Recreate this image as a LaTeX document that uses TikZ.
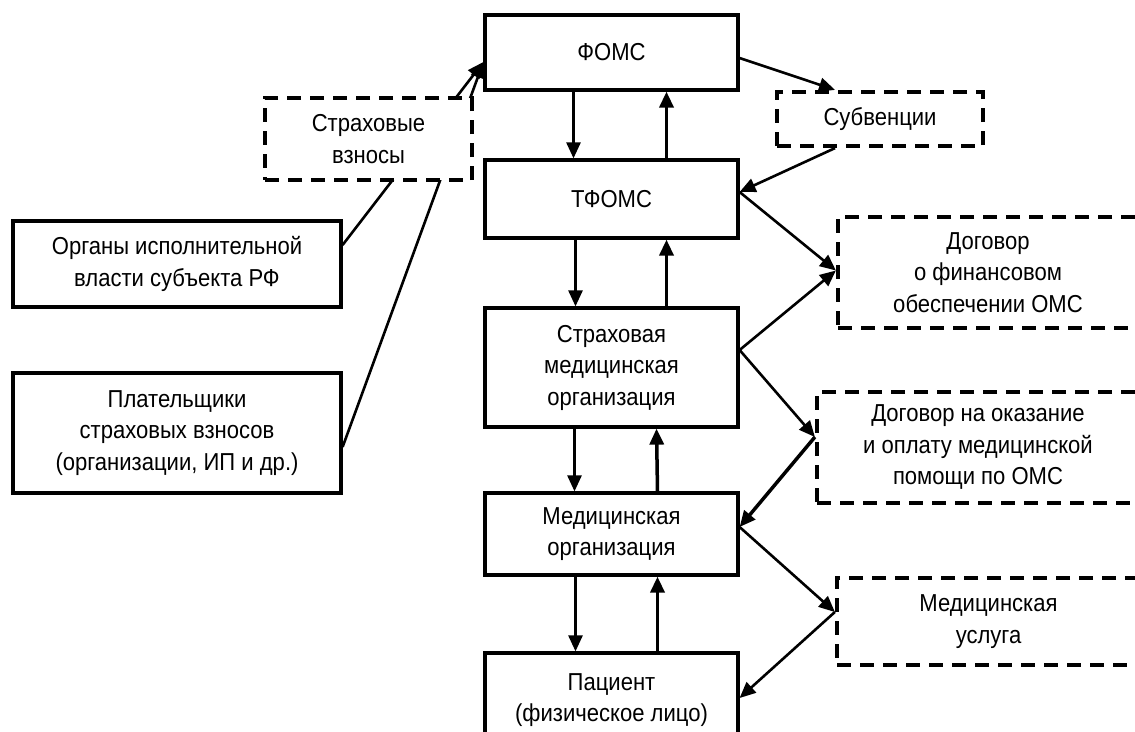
\documentclass[tikz,border=0pt]{standalone}
\usepackage{fontspec}
\setmainfont{Liberation Sans}[FakeStretch=0.9]
\usetikzlibrary{arrows.meta, calc}

\begin{document}
\begin{tikzpicture}[x=1pt, y=-1pt,
    box/.style={rectangle, draw, line width=3.2pt, fill=white, inner sep=0pt,
                align=center, font=\fontsize{24.5}{31.5}\selectfont},
    dbox/.style={box, dash pattern=on 14pt off 9pt, line width=4.2pt},
    link/.style={line width=2.6pt, -{Triangle[length=16pt, width=14pt]}},
    uplink/.style={link, line width=3.5pt}
  ]
  \useasboundingbox (0,0) rectangle (1135,731);
  \clip (0,0) rectangle (1135,731);

  % Central column
  \node[box, minimum width=253pt, minimum height=75pt]  (foms)  at (611.5,52.5) {ФОМС};
  \node[box, minimum width=253pt, minimum height=78pt]  (tfoms) at (611.5,199)  {ТФОМС};
  \node[box, minimum width=253pt, minimum height=119pt] (smo)   at (611.5,367.5)
       {Страховая\\медицинская\\организация};
  \node[box, minimum width=253pt, minimum height=82pt]  (mo)    at (611.5,534)
       {Медицинская\\организация};
  \node[box, minimum width=253pt, minimum height=94pt]  (pat)   at (611.5,700)
       {Пациент\\(физическое лицо)};

  % Down and up flows
  \draw[link]   ([xshift=-38pt]foms.south)  -- ([xshift=-38pt]tfoms.north);
  \draw[uplink] ([xshift=55pt]tfoms.north)  -- ([xshift=55pt]foms.south);
  \draw[link]   ([xshift=-36pt]tfoms.south) -- ([xshift=-36pt]smo.north);
  \draw[uplink] ([xshift=55pt]smo.north)    -- ([xshift=55pt]tfoms.south);
  \draw[link]   ([xshift=-37pt]smo.south)   -- ([xshift=-37pt]mo.north);
  \draw[uplink] ([xshift=46pt]mo.north)     -- ([xshift=45pt]smo.south);
  \draw[link]   ([xshift=-36pt]mo.south)    -- ([xshift=-36pt]pat.north);
  \draw[uplink] ([xshift=46pt]pat.north)    -- ([xshift=46pt]mo.south);

  % Left side
  \node[box, minimum width=328pt, minimum height=86pt]  (org)  at (177,264)
       {Органы исполнительной\\власти субъекта РФ};
  \node[box, minimum width=328pt, minimum height=120pt] (plat) at (177,433)
       {Плательщики\\страховых взносов\\(организации, ИП и др.)};

  \draw[link] ([yshift=19pt]org.east)   -- ([yshift=-9.5pt]foms.west);
  \draw[link] ([yshift=-14pt]plat.east) -- ([yshift=-9.5pt]foms.west);

  \node[dbox, minimum width=207pt, minimum height=82pt] (vzn) at (368.5,139)
       {Страховые\\взносы};

  % Right side
  \node[dbox, minimum width=206pt, minimum height=54pt]  (subv)  at (880,119) {Субвенции};
  \node[dbox, minimum width=300pt, minimum height=111pt] (dfin)  at (988,272.5)
       {Договор\\о финансовом\\обеспечении ОМС};
  \node[dbox, minimum width=322pt, minimum height=111pt] (dokaz) at (978,447.5)
       {Договор на оказание\\и оплату медицинской\\помощи по ОМС};
  \node[dbox, minimum width=303pt, minimum height=87pt]  (usl)   at (988.5,621.5)
       {Медицинская\\услуга};

  \draw[link]   ([yshift=-5.5pt]foms.east)  -- ([xshift=-45pt]subv.north);
  \draw[link]   ([xshift=-45pt]subv.south)  -- ([yshift=7pt]tfoms.east);
  \draw[link]   ([yshift=7pt]tfoms.east)    -- ([yshift=2pt]dfin.west);
  \draw[link]   ([yshift=17.5pt]smo.east)   -- ([yshift=2pt]dfin.west);
  \draw[link]   ([yshift=17.5pt]smo.east)   -- ([yshift=10.5pt]dokaz.west);
  \draw[uplink] ([yshift=10.5pt]dokaz.west) -- ([yshift=7pt]mo.east);
  \draw[link]   ([yshift=7pt]mo.east)       -- ([yshift=9.5pt]usl.west);
  \draw[link]   ([yshift=9.5pt]usl.west)    -- ([yshift=2pt]pat.east);
\end{tikzpicture}
\end{document}
